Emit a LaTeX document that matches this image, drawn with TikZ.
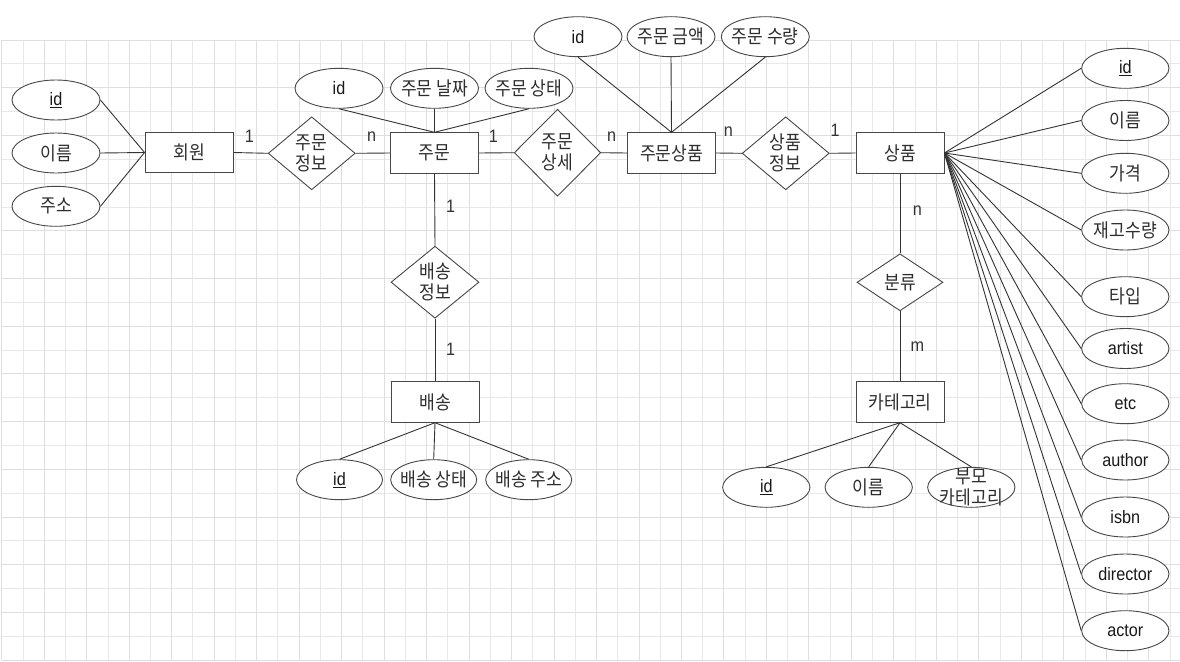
\documentclass[tikz,border=0pt]{standalone}
\usepackage{fontspec}
\setmainfont{Liberation Sans}[FakeStretch=0.9]
\newfontfamily\kr{Noto Sans CJK KR}[FakeStretch=0.9]
\usetikzlibrary{shapes.geometric}
\begin{document}
\begin{tikzpicture}[x=1pt,y=-1pt,
  gridA/.style={draw=black!9, line width=0.8pt},
  gridB/.style={draw=black!13, line width=0.8pt},
  shapeline/.style={draw=black!72, line width=0.9pt, fill=white},
  entity/.style={shapeline, rectangle, minimum width=88pt, minimum height=40.5pt, inner sep=0pt, font=\kr\fontsize{19}{21}\selectfont, text=black!82},
  attr/.style={shapeline, ellipse, minimum width=88pt, minimum height=40pt, inner sep=0pt},
  rel/.style={shapeline, diamond, inner sep=0pt},
  krtxt/.style={font=\kr\fontsize{19}{21}\selectfont, align=center, text=black!82, inner sep=0pt},
  lattxt/.style={font=\fontsize{18}{21}\selectfont, text=black!90, inner sep=0pt},
  card/.style={font=\fontsize{18}{21}\selectfont, text=black!80, inner sep=0pt},
  conn/.style={draw=black!80, line width=0.9pt}]
\useasboundingbox (0,0) rectangle (1180,661);
\fill[white] (0,0) rectangle (1180,661);
% grid
\foreach \k in {1,3,...,25}{\pgfmathsetmacro\yy{40+23.846*\k}\draw[gridA] (1.7,\yy) -- (1180,\yy);}
\foreach \k in {0,2,...,26}{\pgfmathsetmacro\yy{40+23.846*\k}\draw[gridB] (1.7,\yy) -- (1180,\yy);}
\foreach \k in {1,3,...,55}{\pgfmathsetmacro\xx{1.7+21.24*\k}\draw[gridA] (\xx,40) -- (\xx,660);}
\foreach \k in {0,2,...,54}{\pgfmathsetmacro\xx{1.7+21.24*\k}\draw[gridB] (\xx,40) -- (\xx,660);}

% entities
\node[entity] (e1) at (189,152.5) {회원};
\node[entity] (e2) at (434.5,153) {주문};
\node[entity] (e3) at (671.5,153) {주문상품};
\node[entity] (e4) at (900,153) {상품};
\node[entity] (e5) at (435,402) {배송};
\node[entity] (e6) at (900,402) {카테고리};

% relationships
\node[rel, minimum width=87pt, minimum height=73pt] (r1) at (311.7,153.3) {};
\node[krtxt] (r1t) at (r1) {주문\\정보};
\node[rel, minimum width=86.5pt, minimum height=87pt] (r2) at (557.5,152.7) {};
\node[krtxt] (r2t) at (r2) {주문\\상세};
\node[rel, minimum width=87pt, minimum height=73pt] (r3) at (785.7,153.3) {};
\node[krtxt] (r3t) at (r3) {상품\\정보};
\node[rel, minimum width=88pt, minimum height=72pt] (r4) at (435,282.2) {};
\node[krtxt] (r4t) at (r4) {배송\\정보};
\node[rel, minimum width=86pt, minimum height=57pt] (r5) at (900,282.3) {};
\node[krtxt] (r5t) at (r5) {분류};

% attributes of 회원
\node[attr] (a1) at (56,100) {}; \node[lattxt] (a1t) at (a1) {\underline{id}};
\node[attr] (a2) at (56,153) {}; \node[krtxt] (a2t) at (a2) {이름};
\node[attr] (a3) at (56,206.3) {}; \node[krtxt] (a3t) at (a3) {주소};
% attributes of 주문
\node[attr] (a4) at (339,88.3) {}; \node[lattxt] (a4t) at (a4) {id};
\node[attr] (a5) at (434.5,88.3) {}; \node[krtxt] (a5t) at (a5) {주문 날짜};
\node[attr] (a6) at (529,88.3) {}; \node[krtxt] (a6t) at (a6) {주문 상태};
% attributes of 주문상품
\node[attr] (a7) at (578,36.7) {}; \node[lattxt] (a7t) at (a7) {id};
\node[attr] (a8) at (671,36.7) {}; \node[krtxt] (a8t) at (a8) {주문 금액};
\node[attr] (a9) at (765.3,36.7) {}; \node[krtxt] (a9t) at (a9) {주문 수량};
% attributes of 상품
\node[attr, minimum width=87.3pt] (b1) at (1125.3,68.3) {}; \node[lattxt] (b1t) at (b1) {\underline{id}};
\node[attr, minimum width=87.3pt] (b2) at (1125.3,120.5) {}; \node[krtxt] (b2t) at (b2) {이름};
\node[attr, minimum width=87.3pt] (b3) at (1125.3,173.3) {}; \node[krtxt] (b3t) at (b3) {가격};
\node[attr, minimum width=87.3pt] (b4) at (1125.3,230) {}; \node[krtxt] (b4t) at (b4) {재고수량};
\node[attr, minimum width=87.3pt] (b5) at (1125.3,296.7) {}; \node[krtxt] (b5t) at (b5) {타입};
\node[attr, minimum width=87.3pt] (b6) at (1125.3,348.5) {}; \node[lattxt] (b6t) at (b6) {artist};
\node[attr, minimum width=87.3pt] (b7) at (1125.3,403.7) {}; \node[lattxt] (b7t) at (b7) {etc};
\node[attr, minimum width=87.3pt] (b8) at (1125.3,460) {}; \node[lattxt] (b8t) at (b8) {author};
\node[attr, minimum width=87.3pt] (b9) at (1125.3,517) {}; \node[lattxt] (b9t) at (b9) {isbn};
\node[attr, minimum width=87.3pt] (b10) at (1125.3,574) {}; \node[lattxt] (b10t) at (b10) {director};
\node[attr, minimum width=87.3pt] (b11) at (1125.3,630.7) {}; \node[lattxt] (b11t) at (b11) {actor};
% attributes of 배송
\node[attr, minimum width=86pt] (c1) at (339.5,479.7) {}; \node[lattxt] (c1t) at (c1) {\underline{id}};
\node[attr, minimum width=86pt] (c2) at (433.7,479.7) {}; \node[krtxt] (c2t) at (c2) {배송 상태};
\node[attr, minimum width=86pt] (c3) at (528.7,479.7) {}; \node[krtxt] (c3t) at (c3) {배송 주소};
% attributes of 카테고리
\node[attr, minimum width=87.3pt] (d1) at (766.3,487.3) {}; \node[lattxt] (d1t) at (d1) {\underline{id}};
\node[attr, minimum width=87.3pt] (d2) at (868.7,487.3) {}; \node[krtxt] (d2t) at (d2) {이름};
\node[attr, minimum width=87.3pt] (d3) at (971.3,487.3) {}; \node[krtxt] (d3t) at (d3) {부모\\카테고리};

% attribute connectors
\foreach \a in {a1,a2,a3} \draw[conn] (\a.east) -- (e1.west);
\foreach \a in {a4,a5,a6} \draw[conn] (\a.south) -- (e2.north);
\foreach \a in {a7,a8,a9} \draw[conn] (\a.south) -- (e3.north);
\foreach \a in {b1,b2,b3,b4,b5,b6,b7,b8,b9,b10,b11} \draw[conn] (e4.east) -- (\a.west);
\foreach \a in {c1,c2,c3} \draw[conn] (e5.south) -- (\a.north);
\foreach \a in {d1,d2,d3} \draw[conn] (e6.south) -- (\a.north);

% relationship connectors
\draw[conn] (e1.east) -- (r1.west);
\draw[conn] (r1.east) -- (e2.west);
\draw[conn] (e2.east) -- (r2.west);
\draw[conn] (r2.east) -- (e3.west);
\draw[conn] (e3.east) -- (r3.west);
\draw[conn] (r3.east) -- (e4.west);
\draw[conn] (e2.south) -- (r4.north);
\draw[conn] (r4.south) -- (e5.north);
\draw[conn] (e4.south) -- (r5.north);
\draw[conn] (r5.south) -- (e6.north);

% cardinalities
\node[card] (k1) at (249.3,136.7) {1};
\node[card] (k2) at (371.7,136.7) {n};
\node[card] (k3) at (493.3,136.7) {1};
\node[card] (k4) at (611.7,136.7) {n};
\node[card] (k5) at (728.3,131.7) {n};
\node[card] (k6) at (835,130) {1};
\node[card] (k7) at (450.7,206.7) {1};
\node[card] (k8) at (450.7,349.3) {1};
\node[card] (k9) at (917.3,210.7) {n};
\node[card] (k10) at (917.3,347) {m};
\end{tikzpicture}
\end{document}
